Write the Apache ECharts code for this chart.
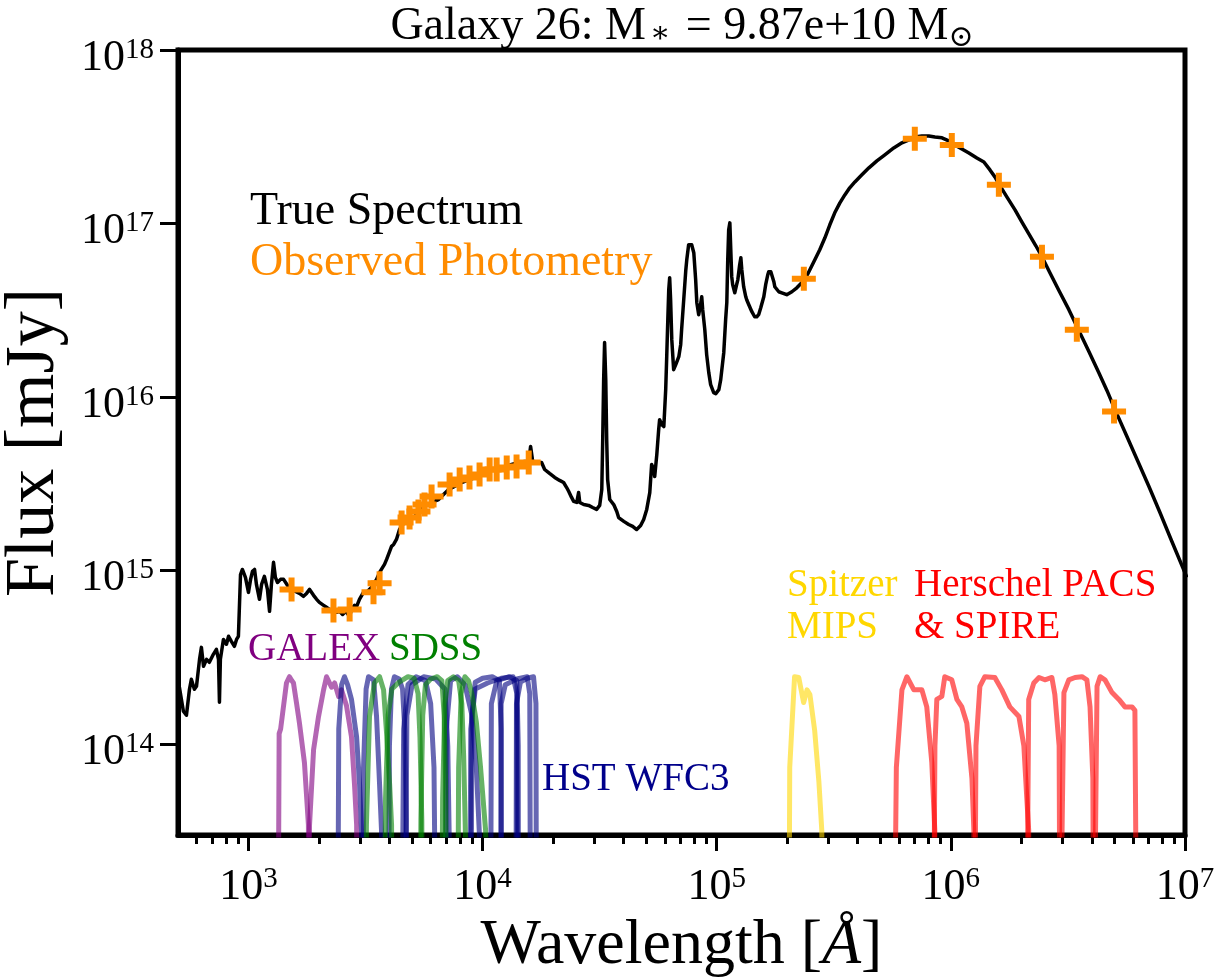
<!DOCTYPE html>
<html><head><meta charset="utf-8">
<script src="https://cdn.jsdelivr.net/npm/echarts@6/dist/echarts.min.js"></script>
<style>html,body{margin:0;padding:0;background:#fff}#c{width:1220px;height:979px}</style>
</head><body><div id="c"></div>
<script>
// ---- True spectrum (log10 wavelength [Å], log10 flux [mJy]) ----
const specLogWave = [2.705,2.722,2.735,2.748,2.756,2.769,2.778,2.791,2.799,2.808,2.821,2.833,2.850,2.863,2.872,2.876,2.880,2.893,2.906,2.915,2.927,2.940,2.949,2.957,2.966,2.974,2.987,3.000,3.009,3.017,3.026,3.034,3.047,3.056,3.068,3.081,3.090,3.098,3.107,3.115,3.124,3.137,3.150,3.167,3.184,3.201,3.218,3.235,3.248,3.261,3.278,3.291,3.303,3.321,3.333,3.346,3.363,3.376,3.389,3.402,3.415,3.432,3.440,3.453,3.462,3.474,3.491,3.509,3.526,3.534,3.547,3.560,3.573,3.581,3.590,3.603,3.611,3.620,3.632,3.645,3.662,3.684,3.709,3.731,3.752,3.782,3.812,3.833,3.855,3.880,3.910,3.944,3.983,4.013,4.038,4.064,4.094,4.124,4.154,4.179,4.197,4.205,4.214,4.231,4.252,4.265,4.286,4.308,4.329,4.346,4.359,4.368,4.380,4.389,4.402,4.410,4.415,4.432,4.453,4.470,4.487,4.500,4.509,4.513,4.517,4.521,4.526,4.530,4.534,4.543,4.551,4.560,4.573,4.581,4.603,4.624,4.641,4.658,4.675,4.688,4.701,4.714,4.722,4.731,4.735,4.744,4.752,4.756,4.765,4.774,4.782,4.786,4.791,4.795,4.799,4.803,4.808,4.816,4.825,4.838,4.846,4.850,4.859,4.868,4.872,4.880,4.885,4.893,4.902,4.910,4.915,4.923,4.932,4.936,4.940,4.949,4.957,4.966,4.974,4.987,4.996,5.009,5.017,5.030,5.038,5.043,5.047,5.051,5.056,5.060,5.064,5.068,5.077,5.085,5.090,5.098,5.103,5.107,5.115,5.124,5.128,5.137,5.141,5.150,5.162,5.171,5.179,5.188,5.201,5.209,5.218,5.222,5.231,5.235,5.244,5.248,5.256,5.265,5.278,5.286,5.299,5.321,5.342,5.363,5.385,5.402,5.419,5.440,5.462,5.483,5.504,5.526,5.547,5.568,5.590,5.620,5.650,5.684,5.718,5.756,5.791,5.821,5.846,5.876,5.906,5.932,5.962,5.991,6.017,6.047,6.077,6.111,6.141,6.167,6.188,6.205,6.239,6.274,6.303,6.333,6.363,6.389,6.423,6.462,6.504,6.547,6.590,6.632,6.667,6.701,6.752,6.799,6.846,6.893,6.944,7.008];
const specLogFlux = [14.328,14.190,14.167,14.317,14.374,14.317,14.334,14.489,14.558,14.449,14.489,14.472,14.518,14.547,14.489,14.242,14.489,14.604,14.576,14.622,14.593,14.564,14.604,14.622,14.978,15.007,14.961,14.875,14.950,14.996,15.007,14.921,14.835,14.921,14.967,14.892,14.766,14.921,15.048,14.961,14.932,14.950,14.950,14.915,14.892,14.881,14.869,14.852,14.869,14.892,14.858,14.835,14.817,14.800,14.789,14.777,14.766,14.760,14.766,14.748,14.766,14.737,14.777,14.800,14.794,14.835,14.875,14.881,14.904,14.909,14.950,14.990,15.019,15.036,15.065,15.111,15.140,15.151,15.180,15.237,15.272,15.295,15.312,15.341,15.370,15.393,15.410,15.439,15.468,15.485,15.508,15.525,15.542,15.566,15.583,15.589,15.600,15.612,15.623,15.629,15.629,15.715,15.629,15.623,15.623,15.583,15.560,15.537,15.520,15.508,15.479,15.456,15.422,15.399,15.393,15.450,15.393,15.381,15.376,15.364,15.353,15.376,15.468,15.755,16.101,16.314,16.101,15.755,15.525,15.410,15.410,15.381,15.341,15.306,15.284,15.266,15.255,15.237,15.260,15.295,15.353,15.450,15.612,15.583,15.542,15.669,15.813,15.870,15.842,15.830,16.043,16.216,16.446,16.619,16.688,16.561,16.331,16.158,16.187,16.233,16.302,16.389,16.561,16.734,16.791,16.878,16.889,16.878,16.832,16.676,16.544,16.475,16.544,16.578,16.504,16.389,16.245,16.141,16.072,16.026,16.020,16.043,16.101,16.256,16.446,16.544,16.791,16.964,17.004,16.849,16.694,16.648,16.601,16.648,16.676,16.763,16.803,16.734,16.636,16.578,16.561,16.532,16.521,16.492,16.463,16.463,16.475,16.515,16.578,16.648,16.705,16.722,16.722,16.717,16.665,16.636,16.630,16.607,16.601,16.590,16.590,16.607,16.630,16.659,16.699,16.745,16.791,16.849,16.918,16.993,17.062,17.119,17.165,17.206,17.240,17.281,17.321,17.361,17.396,17.436,17.465,17.482,17.499,17.505,17.505,17.499,17.494,17.476,17.453,17.430,17.407,17.378,17.355,17.309,17.269,17.229,17.154,17.079,17.010,16.941,16.872,16.809,16.717,16.613,16.504,16.383,16.262,16.141,16.037,15.928,15.773,15.629,15.485,15.335,15.168,14.961];

// ---- Observed photometry (log10 wavelength [Å], log10 flux [mJy]) ----
const photLogWave = [3.184,3.363,3.432,3.534,3.560,3.654,3.688,3.726,3.752,3.782,3.859,3.902,3.944,3.987,4.030,4.060,4.103,4.145,4.197,5.372,5.846,6.004,6.205,6.389,6.538,6.697];
const photLogFlux = [14.892,14.771,14.777,14.875,14.927,15.278,15.306,15.341,15.381,15.427,15.497,15.525,15.537,15.554,15.583,15.583,15.594,15.600,15.623,16.682,17.488,17.453,17.223,16.809,16.388,15.917];

// ---- Axis ticks (exponents of 10) ----
const xTickExponents = [3, 4, 5, 6, 7];
const yTickExponents = [14, 15, 16, 17, 18];
const xRange = [2.699, 7];       // 500 Å .. 1e7 Å
const yRange = [13.477, 18];     // 3e13 .. 1e18 mJy
const FILTER_PEAK_LOG = 14.389;  // filter curves drawn with peak at ~2.45e14

// ---- Filter transmission curves: [wavelength Å, normalized transmission] ----
const galexFUV = [[1335,0.01],[1352,0.47],[1372,0.5],[1400,0.62],[1453,0.92],[1496,1.0],[1530,0.95],[1557,0.92],[1603,0.71],[1651,0.54],[1734,0.32],[1803,0.14],[1815,0.01]];
const galexNUV = [[1815,0.01],[1823,0.14],[1897,0.38],[1992,0.59],[2093,0.84],[2155,1.0],[2264,0.87],[2333,0.92],[2427,0.77],[2496,0.84],[2623,0.68],[2754,0.45],[2837,0.24],[2897,0.14],[2920,0.01]];
const sdssU = [[3150,0.01],[3190,0.14],[3288,0.59],[3452,0.92],[3630,1.0],[3776,0.84],[3890,0.47],[4008,0.24],[4085,0.14],[4120,0.01]];
const sdssG = [[3780,0.01],[3850,0.2],[3950,0.6],[4100,0.85],[4400,0.93],[4800,1.0],[5100,0.98],[5300,0.8],[5400,0.45],[5500,0.15],[5550,0.01]];
const sdssR = [[5380,0.01],[5450,0.15],[5550,0.6],[5700,0.9],[6000,0.97],[6400,1.0],[6700,0.95],[6850,0.6],[6950,0.25],[7050,0.01]];
const sdssI = [[6650,0.01],[6750,0.2],[6900,0.7],[7100,0.95],[7500,1.0],[7900,0.95],[8150,0.7],[8300,0.35],[8450,0.12],[8550,0.01]];
const sdssZ = [[7800,0.01],[7900,0.3],[8100,0.8],[8400,1.0],[8700,0.95],[9000,0.8],[9400,0.55],[9800,0.3],[10300,0.13],[10600,0.01]];
const wfc3F275W = [[2400,0.01],[2430,0.5],[2500,0.9],[2570,1.0],[2650,0.9],[2754,0.74],[2896,0.45],[2982,0.24],[3040,0.13],[3070,0.01]];
const wfc3F336W = [[3080,0.01],[3100,0.3],[3180,0.85],[3256,1.0],[3422,0.96],[3524,0.59],[3630,0.24],[3700,0.13],[3730,0.01]];
const wfc3F438W = [[3950,0.01],[4000,0.4],[4080,0.85],[4200,1.0],[4400,0.97],[4550,0.85],[4650,0.5],[4720,0.15],[4750,0.01]];
const wfc3F555W = [[4500,0.01],[4600,0.5],[4800,0.9],[5200,1.0],[5700,0.95],[6000,0.7],[6200,0.3],[6350,0.01]];
const wfc3F606W = [[4650,0.01],[4750,0.6],[5000,0.9],[5600,1.0],[6300,0.97],[6900,0.85],[7100,0.4],[7200,0.12],[7250,0.01]];
const wfc3F814W = [[6900,0.01],[7000,0.5],[7300,0.95],[7800,1.0],[8400,0.9],[9000,0.6],[9400,0.3],[9700,0.12],[9800,0.01]];
const wfc3F105W = [[8900,0.01],[9000,0.6],[9300,0.93],[10000,0.98],[11000,1.0],[11800,0.95],[12000,0.5],[12100,0.01]];
const wfc3F110W = [[8800,0.01],[8900,0.5],[9300,0.85],[10500,0.92],[12000,0.98],[13500,1.0],[14000,0.8],[14150,0.01]];
const wfc3F125W = [[10800,0.01],[10900,0.7],[11500,0.95],[13000,1.0],[14000,0.95],[14200,0.4],[14250,0.01]];
const wfc3F140W = [[11900,0.01],[12000,0.7],[12500,0.9],[14000,0.97],[15500,1.0],[15900,0.8],[16050,0.01]];
const wfc3F160W = [[13850,0.01],[13950,0.7],[14500,0.93],[15500,0.98],[16500,1.0],[16900,0.7],[17000,0.01]];
const mips24 = [[2.03e5,0.01],[2.05e5,0.3],[2.15e5,1.0],[2.24e5,0.99],[2.35e5,0.71],[2.43e5,0.84],[2.50e5,0.79],[2.62e5,0.49],[2.73e5,0.25],[2.81e5,0.13],[2.85e5,0.01]];
const pacs70 = [[5.70e5,0.01],[5.85e5,0.3],[6.18e5,0.84],[6.49e5,1.0],[6.95e5,0.84],[7.52e5,0.84],[7.89e5,0.67],[8.29e5,0.32],[8.54e5,0.13],[8.60e5,0.01]];
const pacs100 = [[8.40e5,0.01],[8.55e5,0.4],[8.71e5,0.74],[9.15e5,0.77],[9.42e5,1.0],[1.009e6,0.96],[1.061e6,0.74],[1.114e6,0.67],[1.170e6,0.54],[1.230e6,0.26],[1.254e6,0.13],[1.26e6,0.01]];
const pacs160 = [[1.26e6,0.01],[1.28e6,0.4],[1.33e6,0.88],[1.397e6,1.0],[1.541e6,0.99],[1.651e6,0.84],[1.786e6,0.67],[1.953e6,0.59],[2.05e6,0.40],[2.11e6,0.20],[2.15e6,0.13],[2.16e6,0.01]];
const spire250 = [[2.10e6,0.01],[2.15e6,0.74],[2.26e6,0.92],[2.38e6,0.99],[2.52e6,0.96],[2.70e6,0.99],[2.78e6,0.79],[2.90e6,0.40],[2.93e6,0.01]];
const spire350 = [[2.91e6,0.01],[3.04e6,0.81],[3.19e6,0.96],[3.39e6,0.99],[3.63e6,1.0],[3.81e6,0.96],[3.93e6,0.67],[4.04e6,0.26],[4.08e6,0.01]];
const spire500 = [[4.07e6,0.01],[4.21e6,0.88],[4.34e6,1.0],[4.55e6,0.96],[4.88e6,0.81],[5.22e6,0.74],[5.54e6,0.67],[5.94e6,0.67],[6.11e6,0.64],[6.24e6,0.01]];

const filterGroups = [
  { color: '#800080', curves: [galexFUV, galexNUV] },
  { color: '#000080', curves: [wfc3F275W, wfc3F336W, wfc3F438W, wfc3F555W, wfc3F606W, wfc3F814W, wfc3F105W, wfc3F110W, wfc3F125W, wfc3F140W, wfc3F160W] },
  { color: '#008000', curves: [sdssU, sdssG, sdssR, sdssI, sdssZ] },
  { color: '#FFD700', curves: [mips24] },
  { color: '#FF0000', curves: [pacs70, pacs100, pacs160, spire250, spire350, spire500] }
];

// ---- build ----
const FONT = '"Liberation Serif", "DejaVu Serif", serif';
function minorTicks(lo, hi) {
  const out = [];
  for (let n = 2; n <= 7; n++) for (let k = 2; k <= 9; k++) {
    const v = Math.log10(k * Math.pow(10, n));
    if (v >= lo - 1e-9 && v <= hi + 1e-9) out.push(v);
  }
  return out;
}
const labelRich = {
  b: { fontFamily: FONT, fontSize: 44, color: '#000', padding: [16, 0, 0, 0] },
  s: { fontFamily: FONT, fontSize: 29, color: '#000' }
};
const expFormatter = v => '{b|10}{s|' + Math.round(v) + '}';

const series = [];
filterGroups.forEach(g => {
  g.curves.forEach(c => {
    series.push({
      type: 'line', xAxisIndex: 0, yAxisIndex: 0, symbol: 'none', silent: true, clip: true,
      lineStyle: { color: g.color, width: 5, opacity: 0.6, join: 'round', cap: 'round' },
      data: c.map(p => [Math.log10(p[0]), Math.log10(p[1]) + FILTER_PEAK_LOG]),
      z: 2
    });
  });
});
series.push({
  type: 'line', xAxisIndex: 0, yAxisIndex: 0, symbol: 'none', silent: true, clip: true,
  lineStyle: { color: '#000', width: 3.5, join: 'round' },
  data: specLogWave.map((w, i) => [w, specLogFlux[i]]), z: 3
});
series.push({
  type: 'scatter', xAxisIndex: 0, yAxisIndex: 0, silent: true,
  symbol: 'path://M-3,-12L3,-12L3,-3L12,-3L12,3L3,3L3,12L-3,12L-3,3L-12,3L-12,-3L-3,-3Z',
  symbolSize: 24, itemStyle: { color: '#FF8C00', opacity: 1 },
  data: photLogWave.map((w, i) => [w, photLogFlux[i]]), z: 4
});

const chart = echarts.init(document.getElementById('c'), null, { renderer: 'canvas' });
chart.setOption({
  animation: false,
  backgroundColor: '#fff',
  grid: { left: 178, right: 35, top: 50, bottom: 144, show: true, borderColor: '#000', borderWidth: 5, backgroundColor: 'transparent', outerBoundsMode: 'none', containLabel: false },
  xAxis: [
    { type: 'value', position: 'bottom', min: xRange[0], max: xRange[1],
      axisLine: { show: true, onZero: false, lineStyle: { color: '#000', width: 5 } },
      axisTick: { show: true, inside: false, length: 16, lineStyle: { color: '#000', width: 3 }, customValues: xTickExponents },
      axisLabel: { show: true, margin: 14, customValues: xTickExponents, formatter: expFormatter, rich: labelRich },
      splitLine: { show: false },
      name: 'Wavelength [{i|Å}]', nameLocation: 'middle', nameGap: 54,
      nameTextStyle: { fontFamily: FONT, fontSize: 64, color: '#000', rich: { i: { fontFamily: FONT, fontSize: 64, fontStyle: 'italic', color: '#000' } } }
    },
    { type: 'value', position: 'bottom', min: xRange[0], max: xRange[1],
      axisLine: { show: false, onZero: false },
      axisTick: { show: true, inside: false, length: 9, lineStyle: { color: '#000', width: 3 }, customValues: minorTicks(xRange[0], xRange[1]) },
      axisLabel: { show: false }, splitLine: { show: false }
    }
  ],
  yAxis: [
    { type: 'value', position: 'left', min: yRange[0], max: yRange[1],
      axisLine: { show: true, onZero: false, lineStyle: { color: '#000', width: 5 } },
      axisTick: { show: true, inside: false, length: 18, lineStyle: { color: '#000', width: 3 }, customValues: yTickExponents },
      axisLabel: { show: true, margin: 24, customValues: yTickExponents, formatter: expFormatter, rich: labelRich, align: 'right' },
      splitLine: { show: false },
      name: 'Flux [mJy]', nameLocation: 'middle', nameGap: 106, nameRotate: 90,
      nameTextStyle: { fontFamily: FONT, fontSize: 70, color: '#000' }
    },
    { type: 'value', position: 'left', min: yRange[0], max: yRange[1],
      axisLine: { show: false, onZero: false },
      axisTick: { show: true, inside: false, length: 9, lineStyle: { color: '#000', width: 3 }, customValues: minorTicks(yRange[0], yRange[1]) },
      axisLabel: { show: false }, splitLine: { show: false }
    }
  ],
  graphic: [
    { type: 'text', x: 682, y: 27, style: { text: '{t|Galaxy 26: M}{a|∗}{t| = 9.87e+10 M}{o|⊙}', align: 'center', verticalAlign: 'middle',
      rich: { t: { fontFamily: FONT, fontSize: 46, fill: '#000', lineHeight: 52 }, a: { fontFamily: FONT, fontSize: 30, fill: '#000', padding: [14, 4, 0, 4] }, o: { fontFamily: FONT, fontSize: 30, fill: '#000', padding: [22, 0, 0, 0] } } } },
    { type: 'text', x: 250, y: 212, style: { text: 'True Spectrum', font: '46px ' + FONT, fill: '#000', align: 'left', verticalAlign: 'middle' } },
    { type: 'text', x: 250, y: 263, style: { text: 'Observed Photometry', font: '46px ' + FONT, fill: '#FF8C00', align: 'left', verticalAlign: 'middle' } },
    { type: 'text', x: 248, y: 650, style: { text: 'GALEX', font: '39px ' + FONT, fill: '#800080', align: 'left', verticalAlign: 'middle' } },
    { type: 'text', x: 389, y: 650, style: { text: 'SDSS', font: '39px ' + FONT, fill: '#008000', align: 'left', verticalAlign: 'middle' } },
    { type: 'text', x: 542, y: 780, style: { text: 'HST WFC3', font: '39px ' + FONT, fill: '#00008B', align: 'left', verticalAlign: 'middle' } },
    { type: 'text', x: 787, y: 607, style: { text: 'Spitzer\nMIPS', font: '39px ' + FONT, fill: '#FFD700', align: 'left', verticalAlign: 'middle', lineHeight: 42 } },
    { type: 'text', x: 914, y: 607, style: { text: 'Herschel PACS\n& SPIRE', font: '39px ' + FONT, fill: '#FF0000', align: 'left', verticalAlign: 'middle', lineHeight: 42 } }
  ],
  series: series
});
</script></body></html>
